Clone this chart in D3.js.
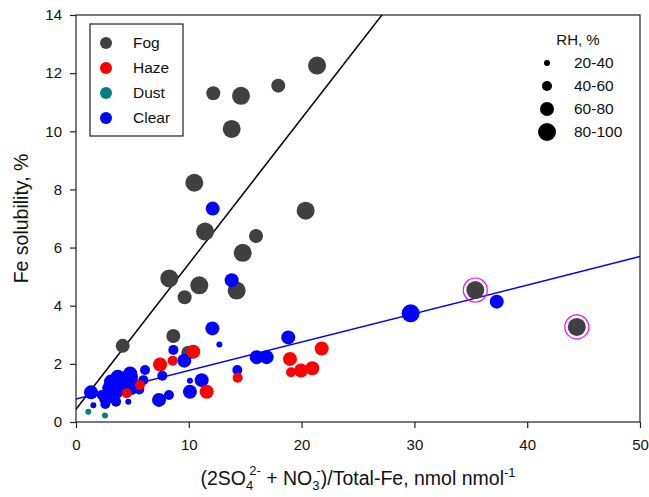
<!DOCTYPE html>
<html>
<head>
<meta charset="utf-8">
<script src="https://cdn.jsdelivr.net/npm/d3@7"></script>
<style>
	body { margin: 0; background: #fff; }
	text { font-family: "Liberation Sans", Arial, sans-serif; fill: #111; }
</style>
</head>
<body>
<div id="graph"></div>
<script>
	'use strict'
	// each point: [ratio, Fe solubility %, RH class 0..3]
	let fog = [[4.14,2.62,2],[8.63,2.96,2],[9.96,2.38,2],[8.27,4.94,3],[9.63,4.29,2],[10.93,4.70,3],
		[14.24,4.52,3],[14.78,5.82,3],[15.96,6.40,2],[11.44,6.55,3],[10.49,8.23,3],[20.36,7.27,3],
		[13.8,10.08,3],[12.17,11.31,2],[14.63,11.22,3],[17.93,11.57,2],[21.37,12.26,3],
		[35.4,4.54,3],[44.4,3.27,3]]
	let clear = [[12.12,7.34,2],[13.8,4.88,2],[12.09,3.22,2],[12.71,2.67,0],[18.82,2.91,2],[16.02,2.23,2],
		[16.9,2.23,2],[14.3,1.79,1],[8.63,2.48,1],[9.6,2.11,2],[7.65,1.59,1],[11.14,1.44,2],[10.1,1.42,0],
		[10.1,1.04,2],[7.36,0.76,2],[8.24,0.93,1],[6.12,1.79,1],[5.97,1.44,1],[29.67,3.74,3],[37.3,4.14,2],
		[1.33,1.02,2],[1.54,0.58,0],[2.28,0.93,1],[2.6,0.62,1],[3.55,0.70,1],[4.64,0.70,0],[2.95,1.16,2],
		[3.4,1.33,2],[3.7,1.56,2],[4.14,1.5,2],[4.88,1.56,2],[3.1,1.39,2],[5.61,1.12,1],[4.96,1.1,1],
		[3.99,1.19,2],[2.66,0.82,2],[5.0,1.3,2],[4.3,1.35,2],[3.6,1.05,2],[4.8,1.67,2]]
	let haze = [[10.4,2.42,2],[7.45,1.98,2],[8.57,2.11,1],[11.58,1.04,2],[14.33,1.52,1],[18.97,2.17,2],
		[19.06,1.71,1],[19.95,1.77,2],[20.95,1.85,2],[21.78,2.53,2],[4.49,0.99,1],[5.67,1.27,1]]
	let dust = [[1.09,0.35,0],[2.57,0.22,0]]
	let circled = [[35.4,4.54],[44.4,3.27]]

	let seriesNames = ['Fog', 'Haze', 'Dust', 'Clear']
	let seriesColors = ['#404040', '#ff0000', '#008080', '#0000ff']
	let rhLabels = ['20-40', '40-60', '60-80', '80-100']
	let rhRadius = [3, 5, 7, 9]

	// fitted lines: intercept, slope
	let fogFit = [0.44, 0.50]
	let clearFit = [0.79, 0.098]

	let xTicks = [0, 10, 20, 30, 40, 50]
	let yTicks = [0, 2, 4, 6, 8, 10, 12, 14]

	let w = 649, h = 497
	let margins = {top: 15, bottom: 75, left: 76, right: 9}

	let svg = d3.select('#graph').append('svg')
		.attr('width', w).attr('height', h)

	let x = d3.scaleLinear().domain([0, 50]).range([margins.left, w - margins.right])
	let y = d3.scaleLinear().domain([0, 14]).range([h - margins.bottom, margins.top])

	let plot = svg.append('g')

	// frame
	plot.append('rect')
		.attr('x', x(0)).attr('y', y(14))
		.attr('width', x(50) - x(0)).attr('height', y(0) - y(14))
		.attr('fill', 'none').attr('stroke', '#222').attr('stroke-width', 1.2)

	let clip = svg.append('clipPath').attr('id', 'clip').append('rect')
		.attr('x', x(0)).attr('y', y(14))
		.attr('width', x(50) - x(0)).attr('height', y(0) - y(14))

	function fitLine(fit, color){
		plot.append('line')
			.attr('clip-path', 'url(#clip)')
			.attr('x1', x(0)).attr('y1', y(fit[0]))
			.attr('x2', x(50)).attr('y2', y(fit[0] + fit[1] * 50))
			.attr('stroke', color).attr('stroke-width', 1.5)
	}
	fitLine(fogFit, '#000')
	fitLine(clearFit, '#0000ff')

	function drawSeries(data, color){
		plot.append('g').selectAll('circle')
			.data(data).enter().append('circle')
			.attr('cx', function(d){ return x(d[0]) })
			.attr('cy', function(d){ return y(d[1]) })
			.attr('r', function(d){ return rhRadius[d[2]] })
			.attr('fill', color)
	}
	drawSeries(fog, seriesColors[0])
	drawSeries(clear, seriesColors[3])
	drawSeries(haze, seriesColors[1])
	drawSeries(dust, seriesColors[2])

	plot.append('g').selectAll('circle')
		.data(circled).enter().append('circle')
		.attr('cx', function(d){ return x(d[0]) })
		.attr('cy', function(d){ return y(d[1]) })
		.attr('r', 12)
		.attr('fill', 'none').attr('stroke', '#ff00ff').attr('stroke-width', 1.2)

	// axes
	let xAxis = svg.append('g')
		.attr('transform', 'translate(0,' + y(0) + ')')
		.call(d3.axisBottom(x).tickValues(xTicks).tickSize(6).tickPadding(11))
	let yAxis = svg.append('g')
		.attr('transform', 'translate(' + x(0) + ',0)')
		.call(d3.axisLeft(y).tickValues(yTicks).tickSize(6).tickPadding(8))
	svg.selectAll('.domain').remove()
	svg.selectAll('.tick line').attr('stroke', '#222').attr('stroke-width', 1.2)
	svg.selectAll('.tick text').style('font-size', '15px').style('font-family', '"Liberation Sans", Arial, sans-serif').attr('fill', '#111')

	// axis titles
	svg.append('text')
		.attr('transform', 'translate(28,' + ((y(0) + y(14)) / 2) + ') rotate(-90)')
		.attr('text-anchor', 'middle')
		.style('font-size', '19.5px')
		.text('Fe solubility, %')

	let xt = svg.append('text')
		.attr('x', (x(0) + x(50)) / 2).attr('y', 485)
		.attr('text-anchor', 'middle')
		.style('font-size', '19.5px')
	xt.append('tspan').text('(2SO')
	xt.append('tspan').attr('dy', 5).style('font-size', '13px').text('4')
	xt.append('tspan').attr('dx', -4).attr('dy', -15).style('font-size', '13px').text('2-')
	xt.append('tspan').attr('dy', 10).text(' + NO')
	xt.append('tspan').attr('dy', 5).style('font-size', '13px').text('3')
	xt.append('tspan').attr('dx', -3).attr('dy', -15).style('font-size', '13px').text('-')
	xt.append('tspan').attr('dy', 10).text(')/Total-Fe, nmol nmol')
	xt.append('tspan').attr('dy', -8).style('font-size', '13px').text('-1')

	// series legend
	let legend = svg.append('g')
	legend.append('rect')
		.attr('x', 90).attr('y', 24).attr('width', 93).attr('height', 112)
		.attr('fill', '#fff').attr('stroke', '#222').attr('stroke-width', 1.2)
	let items = legend.selectAll('.item').data(seriesNames).enter().append('g')
		.attr('transform', function(d, i){ return 'translate(106,' + (43 + i * 25) + ')' })
	items.append('circle').attr('r', 6)
		.attr('fill', function(d, i){ return seriesColors[i] })
	items.append('text').attr('x', 27).attr('dy', '0.35em')
		.style('font-size', '15.5px')
		.text(function(d){ return d })

	// RH legend
	let rh = svg.append('g')
	rh.append('text').attr('x', 578).attr('y', 40).attr('dy', '0.35em')
		.attr('text-anchor', 'middle').style('font-size', '15px').text('RH, %')
	let rhItems = rh.selectAll('.rh').data(rhLabels).enter().append('g')
		.attr('transform', function(d, i){ return 'translate(547,' + (63 + i * 23) + ')' })
	rhItems.append('circle').attr('r', function(d, i){ return rhRadius[i] }).attr('fill', '#000')
	rhItems.append('text').attr('x', 27).attr('dy', '0.35em')
		.style('font-size', '15.5px')
		.text(function(d){ return d })
</script>
</body>
</html>
